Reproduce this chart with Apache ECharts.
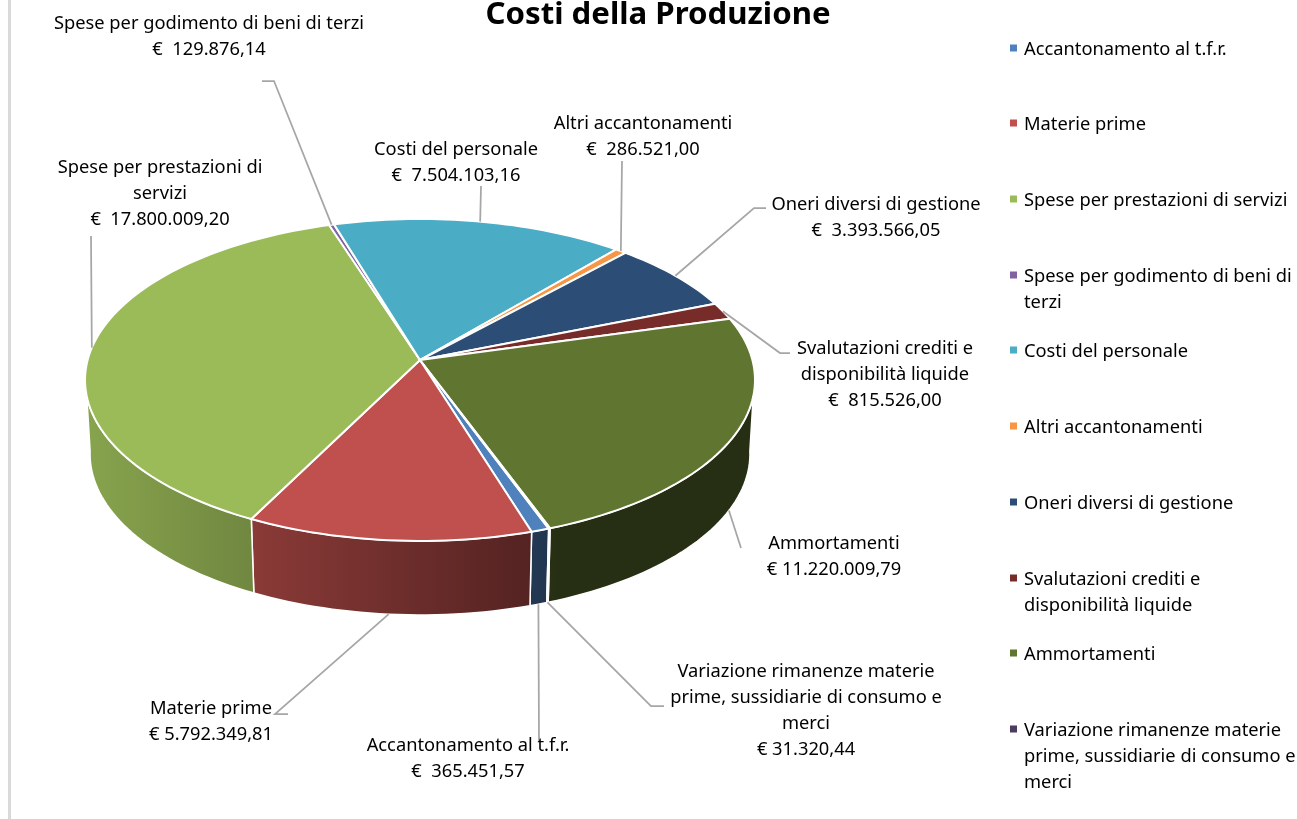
<!DOCTYPE html>
<html>
<head>
<meta charset="utf-8">
<style>html,body{margin:0;padding:0;background:#fff}#c{width:1297px;height:819px}</style>
<script src="https://cdn.jsdelivr.net/npm/echarts@6/dist/echarts.min.js"></script>
</head>
<body>
<div id="c"></div>
<script>
const chartTitle = 'Costi della Produzione';
const categories = [
  'Accantonamento al t.f.r.',
  'Materie prime',
  'Spese per prestazioni di servizi',
  'Spese per godimento di beni di terzi',
  'Costi del personale',
  'Altri accantonamenti',
  'Oneri diversi di gestione',
  'Svalutazioni crediti e disponibilità liquide',
  'Ammortamenti',
  'Variazione rimanenze materie prime, sussidiarie di consumo e merci'
];
const values = [365451.57, 5792349.81, 17800009.20, 129876.14, 7504103.16, 286521.00, 3393566.05, 815526.00, 11220009.79, 31320.44];
const colors = ['#4F81BD', '#C0504D', '#9BBB59', '#8064A2', '#4BACC6', '#F79646', '#2C4D75', '#772C2A', '#5F7530', '#4D3B62'];
const legendLabels = [
  'Accantonamento al t.f.r.',
  'Materie prime',
  'Spese per prestazioni di servizi',
  'Spese per godimento di beni di\nterzi',
  'Costi del personale',
  'Altri accantonamenti',
  'Oneri diversi di gestione',
  'Svalutazioni crediti e\ndisponibilità liquide',
  'Ammortamenti',
  'Variazione rimanenze materie\nprime, sussidiarie di consumo e\nmerci'
];
const dataLabelNames = [
  'Accantonamento al t.f.r.',
  'Materie prime',
  'Spese per prestazioni di\nservizi',
  'Spese per godimento di beni di terzi',
  'Costi del personale',
  'Altri accantonamenti',
  'Oneri diversi di gestione',
  'Svalutazioni crediti e\ndisponibilità liquide',
  'Ammortamenti',
  'Variazione rimanenze materie\nprime, sussidiarie di consumo e\nmerci'
];
const euroGaps = ['  ', ' ', '  ', '  ', '  ', '  ', '  ', '  ', ' ', ' '];

// layout only
const FONT = '"Noto Sans", sans-serif';
const FS = 18.3, LH = 26;
const legendCentres = [48, 123, 199, 275, 350, 426, 502, 578, 653, 729];
const legendIcon = 'path://M0 0H7V7H0ZM0 11H0V11H0Z';
const labelPos = [[468, 759], [211, 722], [160, 194], [209, 37], [456, 163], [643, 137], [876, 218], [885, 375], [834, 557], [806, 711]];
const rimSide = ['bottom', 'bottom', 'top', 'top', 'top', 'top', 'top', 'top', 'bottom', 'bottom'];
const elbows = [
  [[539, 742]],
  [[275, 714], [288, 714]],
  [[91, 236]],
  [[274, 81], [262, 81]],
  [[481, 186]],
  [[622, 161]],
  [[754, 208], [766, 208]],
  [[780, 353], [790, 353]],
  [[741, 548]],
  [[651, 706], [664, 706]]
];
const CX = 420, CY = 360, R = 332.4, A = 158.5, C = 0.124, DEPTH = 74, SHRINK = 0.985;
const START = 20.0, TOP_LIM = 77, BOT_LIM = 84;
const shade = [[90, 0.87], [254, 0.72], [530, 0.44], [560, 0.40]];

function topPt(t) {
  const r = t * Math.PI / 180, u = Math.sin(r), v = Math.cos(r), d = 1 - C * v;
  return [CX + R * u / d, CY + A * v / d];
}
function botPt(t) {
  const p = topPt(t);
  return [CX + (p[0] - CX) * SHRINK, p[1] + DEPTH];
}
const total = values.reduce((a, b) => a + b, 0);
const ranges = [];
values.reduce((acc, v) => {
  const sweep = v / total * 360;
  ranges.push([acc, acc - sweep]);
  return acc - sweep;
}, START);
function arc(fn, a, b) {
  const n = Math.max(2, Math.ceil(Math.abs(a - b) / 1.5)), out = [];
  for (let i = 0; i <= n; i++) out.push(fn(a + (b - a) * i / n));
  return out;
}
function norm(t) { return ((t + 180) % 360 + 360) % 360 - 180; }
function mult(hex, m) {
  const n = parseInt(hex.slice(1), 16);
  const f = s => Math.round(((n >> s) & 255) * m);
  return 'rgb(' + f(16) + ',' + f(8) + ',' + f(0) + ')';
}
function wallFill(hex) {
  const x0 = shade[0][0], x1 = shade[shade.length - 1][0];
  return {
    type: 'linear', x: x0, y: 0, x2: x1, y2: 0, global: true,
    colorStops: shade.map(s => ({ offset: (s[0] - x0) / (x1 - x0), color: mult(hex, s[1]) }))
  };
}
function wallPoly(a, b) {
  // a > b in degrees; keep only the front-facing piece
  const ta = Math.min(a, TOP_LIM), tb = Math.max(b, -TOP_LIM);
  if (ta <= tb) return null;
  const ba = a >= TOP_LIM ? BOT_LIM : a, bb = b <= -TOP_LIM ? -BOT_LIM : b;
  return arc(topPt, ta, tb).concat(arc(botPt, bb, ba));
}
function fmt(v) {
  const s = v.toFixed(2).split('.');
  return s[0].replace(/\B(?=(\d{3})+$)/g, '.') + ',' + s[1];
}
function sliceItem(i) {
  const rg = ranges[i], a = norm(rg[0]), b = a - (rg[0] - rg[1]);
  const children = [];
  const wall = wallPoly(a, b);
  if (wall) children.push({
    type: 'polygon', z2: 1, shape: { points: wall },
    style: { fill: wallFill(colors[i]), stroke: '#fff', lineWidth: 1.5 }
  });
  children.push({
    type: 'polygon', z2: 2, shape: { points: [[CX, CY]].concat(arc(topPt, a, b)) },
    style: { fill: colors[i], stroke: '#fff', lineWidth: 2, lineJoin: 'round' }
  });
  const mid = (a + b) / 2;
  const anchor = rimSide[i] === 'top' ? topPt(mid) : botPt(mid);
  children.push({
    type: 'polyline', z2: 3, shape: { points: [anchor].concat(elbows[i]) },
    style: { fill: null, stroke: '#A6A6A6', lineWidth: 1.75 }
  });
  children.push({
    type: 'text', z2: 4,
    style: {
      text: dataLabelNames[i] + '\n€' + euroGaps[i] + fmt(values[i]),
      x: labelPos[i][0], y: labelPos[i][1], align: 'center', verticalAlign: 'middle',
      fontFamily: FONT, fontSize: FS, lineHeight: LH, fill: '#000'
    }
  });
  return { type: 'group', children };
}

const chart = echarts.init(document.getElementById('c'), null, { renderer: 'canvas' });
chart.setOption({
  animation: false,
  backgroundColor: '#fff',
  color: colors,
  title: {
    text: chartTitle, left: 653, top: -5, textAlign: 'center',
    textStyle: { fontFamily: FONT, fontSize: 31.2, fontWeight: 'bold', color: '#000' }
  },
  legend: categories.map((name, i) => {
    const extra = legendLabels[i].split('\n').length - 1;
    return {
      data: [{ name, icon: legendIcon }],
      orient: 'vertical', left: 1005,
      top: legendCentres[i] - (2 * extra + 1) * LH / 2 + 2, padding: [0, 0, 0, 5],
      itemWidth: 7, itemHeight: 11, itemGap: 0, selectedMode: false,
      // blank lines above keep the swatch level with the first line of wrapped names
      formatter: () => '\n'.repeat(extra) + legendLabels[i],
      textStyle: { fontFamily: FONT, fontSize: FS, lineHeight: LH, color: '#000', padding: [0, 0, 0, 2] }
    };
  }),
  graphic: [{
    type: 'rect', left: 8, top: 0, shape: { width: 3, height: 819 }, style: { fill: '#D9D9D9' }, silent: true
  }],
  series: categories.map((name, i) => ({
    type: 'custom', name, coordinateSystem: 'none', silent: true,
    data: [values[i]], itemStyle: { color: colors[i] },
    renderItem: () => sliceItem(i)
  }))
});
</script>
</body>
</html>
